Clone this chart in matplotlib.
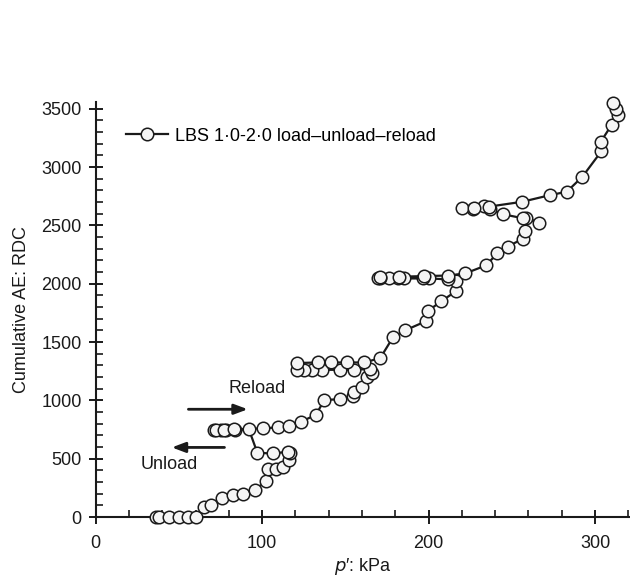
import matplotlib.pyplot as plt
from matplotlib.ticker import MultipleLocator

plt.rcParams['font.family'] = ['Liberation Sans', 'DejaVu Sans']

# load-unload-reload path, p' (kPa) vs cumulative AE (RDC), in test order
p = [36.2, 37.8, 44.0, 50.1, 55.4, 60.5,
     65.0, 69.2, 76.0, 82.2, 88.4, 95.5, 102.3, 103.7, 108.5, 112.6, 116.3, 116.7, 115.5,
     106.4, 97.1, 92.0, 83.7, 78.5, 75.4, 71.3,
     72.5, 77.0, 83.0, 100.2, 109.5, 116.3, 123.3, 132.2, 137.4, 146.7, 154.3, 155.0,
     160.1, 163.2, 166.0, 165.0,
     155.0, 146.7, 135.7, 130.0, 125.4, 120.9,
     120.9, 133.3, 141.5, 150.8, 161.2,
     170.9, 178.7, 186.0, 198.3, 199.4, 207.6, 216.5, 216.5, 211.8,
     200.5, 196.5, 185.0, 181.5, 176.0, 170.5, 169.5,
     171.0, 182.0, 197.0, 211.5,
     222.0, 234.5, 241.3, 247.5, 256.8, 257.7, 258.3, 266.1,
     257.0, 244.4, 236.6, 233.0, 226.9, 220.0,
     227.5, 236.0, 256.2, 273.2, 283.0, 292.4, 303.7, 303.3, 310.0, 313.7, 312.6, 310.9]
ae = [0, 0, 0, 0, 0, 0,
      86, 106, 166, 186, 201, 229, 310, 410, 416, 430, 493, 545, 560,
      545, 551, 752, 748, 748, 748, 748,
      750, 750, 752, 760, 769, 780, 818, 875, 1004, 1010, 1038, 1076,
      1119, 1199, 1239, 1270,
      1262, 1262, 1262, 1262, 1262, 1262,
      1320, 1325, 1325, 1325, 1325,
      1362, 1543, 1601, 1678, 1764, 1850, 1936, 2022, 2037,
      2045, 2045, 2045, 2045, 2045, 2045, 2045,
      2055, 2060, 2065, 2070,
      2088, 2157, 2260, 2318, 2387, 2453, 2567, 2524,
      2560, 2596, 2639, 2668, 2639, 2645,
      2645, 2660, 2702, 2760, 2788, 2917, 3133, 3213, 3362, 3442, 3500, 3551]

fs = 13
ink = '#1a1a1a'

fig = plt.figure(figsize=(6.3, 5.81), dpi=100)
ax = fig.add_axes([0.152, 0.110, 0.848, 0.714])

ax.plot(p, ae, color=ink, lw=1.6, marker='o', ms=9,
        mfc='#f5f5f5', mec=ink, mew=1.1,
        label='LBS 1·0-2·0 load–unload–reload', clip_on=False, zorder=3)

ax.set_xlim(0, 321)
ax.set_ylim(0, 3555)
ax.xaxis.set_major_locator(MultipleLocator(100))
ax.xaxis.set_minor_locator(MultipleLocator(20))
ax.yaxis.set_major_locator(MultipleLocator(500))
ax.yaxis.set_minor_locator(MultipleLocator(100))
ax.tick_params(which='major', direction='inout', length=10, width=1.4,
               labelsize=fs, colors=ink)
ax.tick_params(which='minor', direction='in', length=5, width=1.2, colors=ink)
ax.tick_params(axis='x', pad=8)
ax.tick_params(axis='y', pad=5)

for s in ['top', 'right']:
    ax.spines[s].set_visible(False)
for s in ['left', 'bottom']:
    ax.spines[s].set_linewidth(1.5)
    ax.spines[s].set_color(ink)

ax.set_xlabel("$p$′: kPa", fontsize=fs, labelpad=3, color=ink)
ax.set_ylabel("Cumulative AE: RDC", fontsize=fs, labelpad=8, color=ink)

# direction arrows
ax.annotate('', xy=(93, 924), xytext=(54, 924),
            arrowprops=dict(arrowstyle='-|>,head_length=0.8,head_width=0.3',
                            lw=2, color=ink))
ax.text(97, 1104, 'Reload', fontsize=fs, ha='center', va='center', color=ink)
ax.annotate('', xy=(44, 597), xytext=(79, 597),
            arrowprops=dict(arrowstyle='-|>,head_length=0.8,head_width=0.3',
                            lw=2, color=ink))
ax.text(44, 450, 'Unload', fontsize=fs, ha='center', va='center', color=ink)

ax.legend(loc='center left', bbox_to_anchor=(0.044, 0.918), frameon=False,
          fontsize=fs, handlelength=2.3, handletextpad=0.4, borderaxespad=0)

fig.savefig('out.png', dpi=100)
